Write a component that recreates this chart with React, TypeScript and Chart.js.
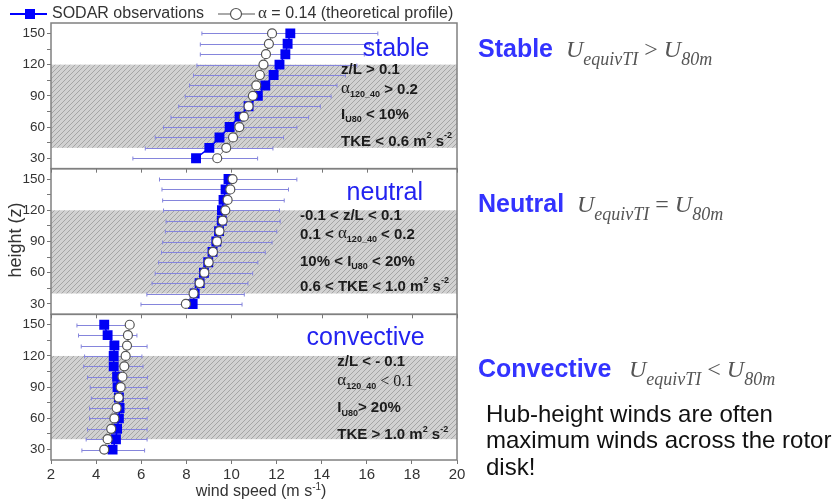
import React, { useEffect, useRef } from 'react';
import { Chart, registerables } from 'chart.js';

Chart.register(...registerables);

const SANS = 'Arial, "Liberation Sans", Helvetica, sans-serif';
const SERIF = '"Times New Roman", "Liberation Serif", serif';

// Measurement heights (m), bottom to top
const HEIGHTS = [30, 40, 50, 60, 70, 80, 90, 100, 110, 120, 130, 140, 150];

const X_TICKS = [2, 4, 6, 8, 10, 12, 14, 16, 18, 20];
const Y_TICKS = [30, 45, 60, 75, 90, 105, 120, 135, 150];
const Y_LABELLED = [30, 60, 90, 120, 150];

// Rotor layer
const ROTOR_BOTTOM = 40;
const ROTOR_TOP = 120;

// Stable: SODAR mean, alpha = 0.14 profile, error-bar ends
const STABLE_OBS = [8.43, 9.02, 9.47, 9.92, 10.36, 10.76, 11.17, 11.5, 11.87, 12.13, 12.39, 12.49, 12.61];
const STABLE_THEORY = [9.37, 9.77, 10.07, 10.35, 10.55, 10.76, 10.95, 11.1, 11.26, 11.42, 11.53, 11.66, 11.8];
const STABLE_LOW = [5.63, 6.18, 6.62, 6.99, 7.32, 7.66, 7.95, 8.14, 8.32, 8.47, 8.62, 8.62, 8.69];
const STABLE_HIGH = [11.16, 11.84, 12.31, 12.9, 13.42, 13.94, 14.42, 14.68, 15.05, 15.56, 15.89, 16.12, 16.49];

// Neutral
const NEUTRAL_OBS = [8.28, 8.37, 8.59, 8.78, 8.97, 9.16, 9.33, 9.45, 9.57, 9.58, 9.65, 9.74, 9.87];
const NEUTRAL_THEORY = [7.98, 8.32, 8.59, 8.8, 8.99, 9.18, 9.36, 9.47, 9.61, 9.73, 9.83, 9.95, 10.05];
const NEUTRAL_LOW = [5.99, 6.25, 6.48, 6.62, 6.77, 6.9, 6.95, 7.07, 7.1, 6.99, 6.95, 6.92, 6.81];
const NEUTRAL_HIGH = [10.47, 10.57, 10.73, 10.94, 11.17, 11.5, 11.8, 12.01, 12.16, 12.13, 12.34, 12.53, 12.9];

// Convective
const CONV_OBS = [4.73, 4.88, 4.93, 5.01, 5.04, 5.01, 4.95, 4.93, 4.78, 4.78, 4.81, 4.51, 4.36];
const CONV_THEORY = [4.36, 4.51, 4.67, 4.81, 4.91, 5.0, 5.09, 5.17, 5.25, 5.31, 5.37, 5.41, 5.49];
const CONV_LOW = [3.37, 3.56, 3.62, 3.71, 3.71, 3.79, 3.74, 3.62, 3.45, 3.49, 3.34, 3.22, 3.15];
const CONV_HIGH = [6.15, 6.26, 6.26, 6.26, 6.33, 6.26, 6.26, 6.28, 6.08, 6.03, 6.26, 5.81, 5.59];

type Run = { t: string; s: string };

const PANELS = [
  {
    axis: 'yStable', obs: STABLE_OBS, theory: STABLE_THEORY, low: STABLE_LOW, high: STABLE_HIGH,
    name: 'stable', nameAt: [17.3, 134.6], condX: 14.86, condY: [115.4, 96.2, 72.1, 46.2],
    conditions: [
      [{ t: 'z/L > 0.1', s: 'b' }],
      [{ t: 'α', s: 'greek' }, { t: '120_40', s: 'sub' }, { t: ' > 0.2', s: 'b' }],
      [{ t: 'I', s: 'b' }, { t: 'U80', s: 'sub' }, { t: ' < 10%', s: 'b' }],
      [{ t: 'TKE < 0.6 m', s: 'b' }, { t: '2', s: 'sup' }, { t: ' s', s: 'b' }, { t: '-2', s: 'sup' }],
    ] as Run[][],
  },
  {
    axis: 'yNeutral', obs: NEUTRAL_OBS, theory: NEUTRAL_THEORY, low: NEUTRAL_LOW, high: NEUTRAL_HIGH,
    name: 'neutral', nameAt: [16.8, 136.8], condX: 13.04, condY: [115, 96.4, 70.8, 46.7],
    conditions: [
      [{ t: '-0.1 < z/L < 0.1', s: 'b' }],
      [{ t: '0.1 < ', s: 'b' }, { t: 'α', s: 'greek' }, { t: '120_40', s: 'sub' }, { t: ' < 0.2', s: 'b' }],
      [{ t: '10% < I', s: 'b' }, { t: 'U80', s: 'sub' }, { t: ' < 20%', s: 'b' }],
      [{ t: '0.6 < TKE < 1.0 m', s: 'b' }, { t: '2', s: 'sup' }, { t: ' s', s: 'b' }, { t: '-2', s: 'sup' }],
    ] as Run[][],
  },
  {
    axis: 'yConvective', obs: CONV_OBS, theory: CONV_THEORY, low: CONV_LOW, high: CONV_HIGH,
    name: 'convective', nameAt: [15.95, 137.5], condX: 14.69, condY: [114.4, 95.2, 69.9, 44],
    conditions: [
      [{ t: 'z/L < - 0.1', s: 'b' }],
      [{ t: 'α', s: 'greek' }, { t: '120_40', s: 'sub' }, { t: ' < 0.1', s: 'serif' }],
      [{ t: 'I', s: 'b' }, { t: 'U80', s: 'sub' }, { t: '> 20%', s: 'b' }],
      [{ t: 'TKE > 1.0 m', s: 'b' }, { t: '2', s: 'sup' }, { t: ' s', s: 'b' }, { t: '-2', s: 'sup' }],
    ] as Run[][],
  },
];

const COND_STYLES: Record<string, { font: string; dy: number }> = {
  b: { font: `bold 15px ${SANS}`, dy: 0 },
  sub: { font: `bold 9px ${SANS}`, dy: 5 },
  sup: { font: `bold 9px ${SANS}`, dy: -6 },
  greek: { font: `17px ${SERIF}`, dy: -1 },
  serif: { font: `16px ${SERIF}`, dy: 0 },
};

const NOTE_STYLES: Record<string, { font: string; dy: number; color: string }> = {
  head: { font: `bold 25px ${SANS}`, dy: 0, color: '#3333ff' },
  U: { font: `italic 24px ${SERIF}`, dy: 0, color: '#555555' },
  sub: { font: `italic 18px ${SERIF}`, dy: 8, color: '#555555' },
  op: { font: `24px ${SERIF}`, dy: 0, color: '#555555' },
};

const NOTES = [
  { head: 'Stable', op: ' > ', baseline: 57, headX: 478, mathX: 566 },
  { head: 'Neutral', op: ' = ', baseline: 212, headX: 478, mathX: 577 },
  { head: 'Convective', op: ' < ', baseline: 377, headX: 478, mathX: 629 },
];

const REMARK = ['Hub-height winds are often', 'maximum winds across the rotor', 'disk!'];

function drawRuns(ctx: CanvasRenderingContext2D, x: number, y: number, runs: Run[], styles: Record<string, any>) {
  let cx = x;
  for (const r of runs) {
    const st = styles[r.s];
    ctx.font = st.font;
    if (st.color) ctx.fillStyle = st.color;
    ctx.fillText(r.t, cx, y + st.dy);
    cx += ctx.measureText(r.t).width;
  }
}

function makeHatch(ctx: CanvasRenderingContext2D) {
  const c = document.createElement('canvas');
  c.width = 5;
  c.height = 5;
  const g = c.getContext('2d')!;
  g.fillStyle = '#d1d1d1';
  g.fillRect(0, 0, 5, 5);
  g.strokeStyle = '#a5a5a5';
  g.lineWidth = 1;
  g.beginPath();
  g.moveTo(0, 5); g.lineTo(5, 0);
  g.moveTo(-1, 1); g.lineTo(1, -1);
  g.moveTo(4, 6); g.lineTo(6, 4);
  g.stroke();
  return ctx.createPattern(c, 'repeat')!;
}

const figurePlugin = {
  id: 'figure',
  beforeDatasetsDraw(chart: any) {
    const ctx: CanvasRenderingContext2D = chart.ctx;
    const xs = chart.scales.x;
    const { left, right } = chart.chartArea;
    ctx.save();
    const hatch = makeHatch(ctx);
    for (const p of PANELS) {
      const ys = chart.scales[p.axis];
      const top = ys.getPixelForValue(ROTOR_TOP);
      const bot = ys.getPixelForValue(ROTOR_BOTTOM);
      ctx.fillStyle = hatch;
      ctx.fillRect(left, top, right - left, bot - top);

      ctx.strokeStyle = '#8585dc';
      ctx.lineWidth = 1;
      HEIGHTS.forEach((h, i) => {
        const py = Math.round(ys.getPixelForValue(h)) + 0.5;
        const x0 = xs.getPixelForValue(p.low[i]);
        const x1 = xs.getPixelForValue(p.high[i]);
        ctx.beginPath();
        ctx.moveTo(x0, py); ctx.lineTo(x1, py);
        ctx.moveTo(x0, py - 2); ctx.lineTo(x0, py + 2);
        ctx.moveTo(x1, py - 2); ctx.lineTo(x1, py + 2);
        ctx.stroke();
      });
    }
    ctx.restore();
  },
  afterDatasetsDraw(chart: any) {
    const ctx: CanvasRenderingContext2D = chart.ctx;
    const xs = chart.scales.x;
    const { left, right } = chart.chartArea;
    ctx.save();
    PANELS.forEach((p, k) => {
      const ys = chart.scales[p.axis];
      ctx.strokeStyle = '#808080';
      ctx.lineWidth = 1.5;
      ctx.strokeRect(left, ys.top, right - left, ys.bottom - ys.top);
      if (k > 0) {
        ctx.lineWidth = 1;
        ctx.strokeStyle = '#777';
        for (const v of X_TICKS) {
          const px = Math.round(xs.getPixelForValue(v)) + 0.5;
          ctx.beginPath();
          ctx.moveTo(px, ys.top);
          ctx.lineTo(px, ys.top + 4);
          ctx.stroke();
        }
      }

      // regime name
      ctx.fillStyle = '#2323f0';
      ctx.font = `25px ${SANS}`;
      ctx.textAlign = 'center';
      ctx.textBaseline = 'middle';
      ctx.fillText(p.name, xs.getPixelForValue(p.nameAt[0]), ys.getPixelForValue(p.nameAt[1]));

      // regime criteria
      ctx.textAlign = 'left';
      ctx.fillStyle = '#1c1c1c';
      p.conditions.forEach((runs, j) => {
        drawRuns(ctx, xs.getPixelForValue(p.condX), ys.getPixelForValue(p.condY[j]), runs, COND_STYLES);
      });
    });
    ctx.restore();
  },
  afterDraw(chart: any) {
    const ctx: CanvasRenderingContext2D = chart.ctx;
    const { left, right } = chart.chartArea;
    ctx.save();

    // legend
    const ly = 14;
    ctx.strokeStyle = '#0000ff';
    ctx.lineWidth = 2;
    ctx.beginPath(); ctx.moveTo(10, ly); ctx.lineTo(47, ly); ctx.stroke();
    ctx.fillStyle = '#0000ff';
    ctx.fillRect(25, ly - 5, 10, 10);
    ctx.fillStyle = '#333';
    ctx.textBaseline = 'middle';
    ctx.textAlign = 'left';
    ctx.font = `16px ${SANS}`;
    ctx.fillText('SODAR observations', 52, ly);

    ctx.strokeStyle = '#555';
    ctx.lineWidth = 1.2;
    ctx.beginPath(); ctx.moveTo(218, ly); ctx.lineTo(255, ly); ctx.stroke();
    ctx.beginPath(); ctx.arc(236, ly, 5.5, 0, Math.PI * 2);
    ctx.fillStyle = '#fff'; ctx.fill(); ctx.stroke();
    ctx.fillStyle = '#333';
    drawRuns(ctx, 258, ly, [{ t: 'α', s: 'a' }, { t: ' = 0.14 (theoretical profile)', s: 'r' }], {
      a: { font: `17px ${SERIF}`, dy: 0 },
      r: { font: `16px ${SANS}`, dy: 0 },
    });

    // axis titles
    ctx.fillStyle = '#333';
    const tx = (left + right) / 2 + 7;
    const base = `16px ${SANS}`;
    const parts: Run[] = [{ t: 'wind speed (m s', s: 'r' }, { t: '-1', s: 'sup' }, { t: ')', s: 'r' }];
    const st = { r: { font: base, dy: 0 }, sup: { font: `10px ${SANS}`, dy: -6 } };
    let w = 0;
    for (const r of parts) { ctx.font = (st as any)[r.s].font; w += ctx.measureText(r.t).width; }
    ctx.textBaseline = 'alphabetic';
    drawRuns(ctx, tx - w / 2, 496, parts, st);

    ctx.save();
    ctx.translate(16, 240);
    ctx.rotate(-Math.PI / 2);
    ctx.textAlign = 'center';
    ctx.textBaseline = 'middle';
    ctx.font = `18px ${SANS}`;
    ctx.fillText('height (z)', 0, 0);
    ctx.restore();

    // regime notes beside the panels
    ctx.textAlign = 'left';
    ctx.textBaseline = 'alphabetic';
    for (const n of NOTES) {
      drawRuns(ctx, n.headX, n.baseline, [{ t: n.head, s: 'head' }], NOTE_STYLES);
      drawRuns(ctx, n.mathX, n.baseline, [
        { t: 'U', s: 'U' }, { t: 'equivTI', s: 'sub' }, { t: n.op, s: 'op' }, { t: 'U', s: 'U' }, { t: '80m', s: 'sub' },
      ], NOTE_STYLES);
    }
    ctx.fillStyle = '#111';
    ctx.font = `24px ${SANS}`;
    REMARK.forEach((line, i) => ctx.fillText(line, 486, 421.5 + i * 26.7));
    ctx.restore();
  },
};

function yAxis(weight: number) {
  return {
    type: 'linear',
    position: 'left',
    stack: 'panels',
    stackWeight: 1,
    weight,
    min: 20,
    max: 160,
    afterBuildTicks: (a: any) => { a.ticks = Y_TICKS.map((v) => ({ value: v })); },
    afterFit: (a: any) => { a.width = 51; },
    ticks: {
      autoSkip: false,
      padding: 2,
      color: '#333',
      font: { family: SANS, size: 13.5 },
      callback: (v: number) => (Y_LABELLED.includes(v) ? String(v) : ''),
    },
    grid: { display: true, drawOnChartArea: false, tickLength: 4, color: '#777' },
    border: { display: false },
  };
}

export default function App() {
  const ref = useRef<HTMLCanvasElement | null>(null);

  useEffect(() => {
    if (!ref.current) return;
    const datasets: any[] = [];
    PANELS.forEach((p) => {
      datasets.push({
        label: 'α = 0.14 (theoretical profile)',
        yAxisID: p.axis,
        order: 0,
        data: HEIGHTS.map((h, i) => ({ x: p.theory[i], y: h })),
        showLine: true,
        borderColor: '#777',
        borderWidth: 1,
        pointStyle: 'circle',
        pointRadius: 4.5,
        pointBackgroundColor: '#ffffff',
        pointBorderColor: '#555',
        pointBorderWidth: 1.2,
      });
      datasets.push({
        label: 'SODAR observations',
        yAxisID: p.axis,
        order: 1,
        data: HEIGHTS.map((h, i) => ({ x: p.obs[i], y: h })),
        showLine: true,
        borderColor: '#0000ff',
        borderWidth: 1.5,
        pointStyle: 'rect',
        pointRadius: 7,
        pointBackgroundColor: '#0000f5',
        pointBorderWidth: 0,
      });
    });

    const chart = new Chart(ref.current, {
      type: 'scatter',
      data: { datasets },
      options: {
        responsive: false,
        devicePixelRatio: 1,
        animation: false,
        events: [],
        layout: { padding: { top: 23, right: 378, left: 0, bottom: 0 } },
        plugins: { legend: { display: false }, tooltip: { enabled: false } },
        scales: {
          x: {
            type: 'linear',
            position: 'bottom',
            min: 2,
            max: 20,
            afterBuildTicks: (a: any) => { a.ticks = X_TICKS.map((v) => ({ value: v })); },
            afterFit: (a: any) => { a.height = 41; },
            ticks: { autoSkip: false, padding: 2, color: '#333', font: { family: SANS, size: 15 } },
            grid: { display: true, drawOnChartArea: false, tickLength: 4, color: '#777' },
            border: { display: false },
          },
          yStable: yAxis(3),
          yNeutral: yAxis(2),
          yConvective: yAxis(1),
        } as any,
      },
      plugins: [figurePlugin],
    } as any);
    return () => chart.destroy();
  }, []);

  return (
    <div style={{ position: 'absolute', left: 0, top: 0, width: 835, height: 501, background: '#fff' }}>
      <canvas ref={ref} width={835} height={501} style={{ display: 'block' }} />
    </div>
  );
}
